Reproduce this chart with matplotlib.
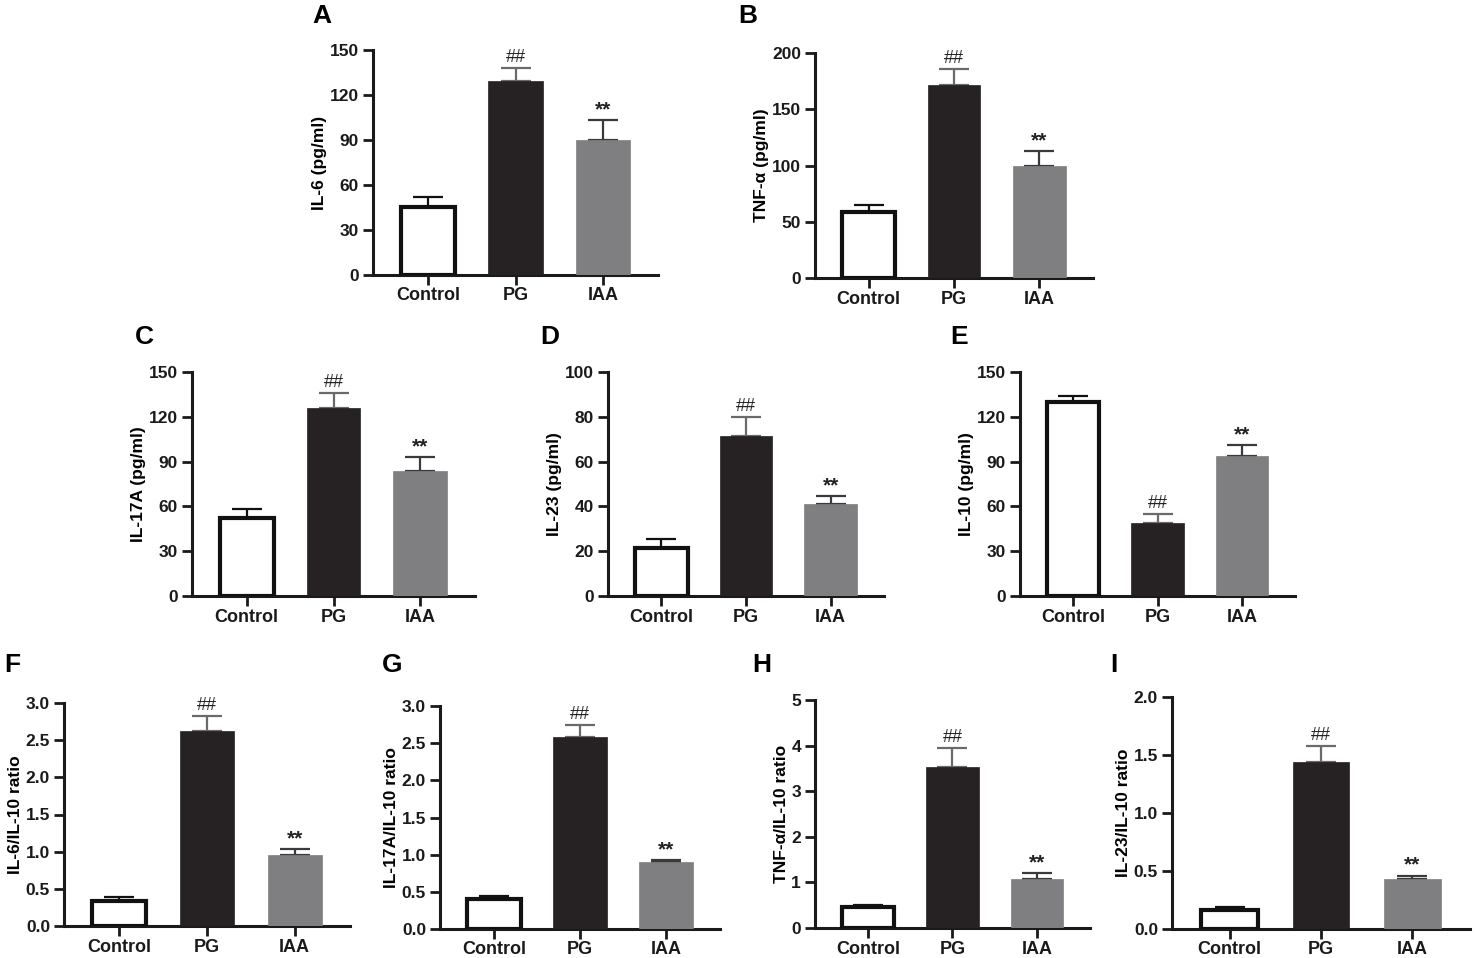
import numpy as np
import matplotlib.pyplot as plt

plt.rcParams['font.family'] = ['Liberation Sans', 'DejaVu Sans']
plt.rcParams['font.weight'] = 'bold'

groups = ['Control', 'PG', 'IAA']

il6_mean = [45, 129, 90]
il6_err = [7, 9, 13]
tnf_mean = [59, 172, 100]
tnf_err = [6, 14, 13]
il17_mean = [52, 126, 84]
il17_err = [6, 10, 9]
il23_mean = [21.5, 71.5, 41]
il23_err = [4, 8.5, 3.5]
il10_mean = [130, 49, 94]
il10_err = [4, 6, 7]
r6_mean = [0.33, 2.63, 0.95]
r6_err = [0.06, 0.20, 0.09]
r17_mean = [0.40, 2.58, 0.90]
r17_err = [0.04, 0.17, 0.03]
rtnf_mean = [0.45, 3.52, 1.08]
rtnf_err = [0.05, 0.43, 0.12]
r23_mean = [0.16, 1.44, 0.43]
r23_err = [0.03, 0.14, 0.03]

W, H = 1480, 958
fig = plt.figure(figsize=(W / 100, H / 100), dpi=100)

bar_face = ['white', '#262223', '#7f7f81']
err_col = ['#111111', '#6a6a6a', '#3a3a3a']


def panel(letter, ylabel, means, errs, ymax, ticks, tlabels, box, letter_xy):
    # box = (x_left, y_top, x_right, y_bottom) in pixels
    x0, y0, x1, y1 = box
    ax = fig.add_axes([x0 / W, 1 - y1 / H, (x1 - x0) / W, (y1 - y0) / H])
    x = np.arange(len(groups))
    for i in range(len(groups)):
        ax.bar(x[i], means[i], width=0.62, color=bar_face[i],
               edgecolor='#111111' if i == 0 else bar_face[i],
               linewidth=3 if i == 0 else 0.5, zorder=3)
        ax.errorbar(x[i], means[i], yerr=[[0], [errs[i]]], fmt='none',
                    ecolor=err_col[i], elinewidth=1.6, capsize=11,
                    capthick=1.6, zorder=2)
    off = ymax * 0.045
    ax.text(1, means[1] + errs[1] + off, '##', ha='center', va='center',
            fontsize=13, fontweight='normal', color='#222222')
    ax.text(2, means[2] + errs[2] + off, '**', ha='center', va='center',
            fontsize=15, fontweight='bold', color='#222222')
    ax.set_xlim(-0.63, 2.63)
    ax.set_ylim(0, ymax)
    ax.set_yticks(ticks)
    ax.set_yticklabels(tlabels)
    ax.set_xticks(x)
    ax.set_xticklabels(groups)
    for s in ['top', 'right']:
        ax.spines[s].set_visible(False)
    for s in ['left', 'bottom']:
        ax.spines[s].set_linewidth(2.2)
        ax.spines[s].set_color('#1a1a1a')
    ax.tick_params(axis='both', width=2, length=7, labelsize=12.5,
                   colors='#1a1a1a', pad=3)
    ax.tick_params(axis='x', labelsize=13, pad=2)
    ax.set_ylabel(ylabel, fontsize=12.5, fontweight='bold', labelpad=2)
    fig.text(letter_xy[0] / W, 1 - letter_xy[1] / H, letter, fontsize=19,
             fontweight='bold', ha='left', va='center')
    return ax


panel('A', 'IL-6 (pg/ml)', il6_mean, il6_err, 150,
      [0, 30, 60, 90, 120, 150], ['0', '30', '60', '90', '120', '150'],
      (373, 50, 658, 275), (312, 16))
panel('B', 'TNF-α (pg/ml)', tnf_mean, tnf_err, 200,
      [0, 50, 100, 150, 200], ['0', '50', '100', '150', '200'],
      (815, 53, 1093, 278), (738, 16))
panel('C', 'IL-17A (pg/ml)', il17_mean, il17_err, 150,
      [0, 30, 60, 90, 120, 150], ['0', '30', '60', '90', '120', '150'],
      (192, 372, 475, 596), (135, 337))
panel('D', 'IL-23 (pg/ml)', il23_mean, il23_err, 100,
      [0, 20, 40, 60, 80, 100], ['0', '20', '40', '60', '80', '100'],
      (608, 372, 884, 596), (540, 337))
panel('E', 'IL-10 (pg/ml)', il10_mean, il10_err, 150,
      [0, 30, 60, 90, 120, 150], ['0', '30', '60', '90', '120', '150'],
      (1020, 372, 1295, 596), (950, 337))
panel('F', 'IL-6/IL-10 ratio', r6_mean, r6_err, 3.0,
      [0, 0.5, 1, 1.5, 2, 2.5, 3], ['0.0', '0.5', '1.0', '1.5', '2.0', '2.5', '3.0'],
      (64, 703, 350, 926), (4, 665))
panel('G', 'IL-17A/IL-10 ratio', r17_mean, r17_err, 3.0,
      [0, 0.5, 1, 1.5, 2, 2.5, 3], ['0.0', '0.5', '1.0', '1.5', '2.0', '2.5', '3.0'],
      (440, 706, 720, 929), (382, 665))
panel('H', 'TNF-α/IL-10 ratio', rtnf_mean, rtnf_err, 5,
      [0, 1, 2, 3, 4, 5], ['0', '1', '2', '3', '4', '5'],
      (815, 700, 1090, 928), (752, 665))
panel('I', 'IL-23/IL-10 ratio', r23_mean, r23_err, 2.0,
      [0, 0.5, 1, 1.5, 2], ['0.0', '0.5', '1.0', '1.5', '2.0'],
      (1172, 697, 1470, 929), (1110, 665))

fig.savefig('out.png', dpi=100)
